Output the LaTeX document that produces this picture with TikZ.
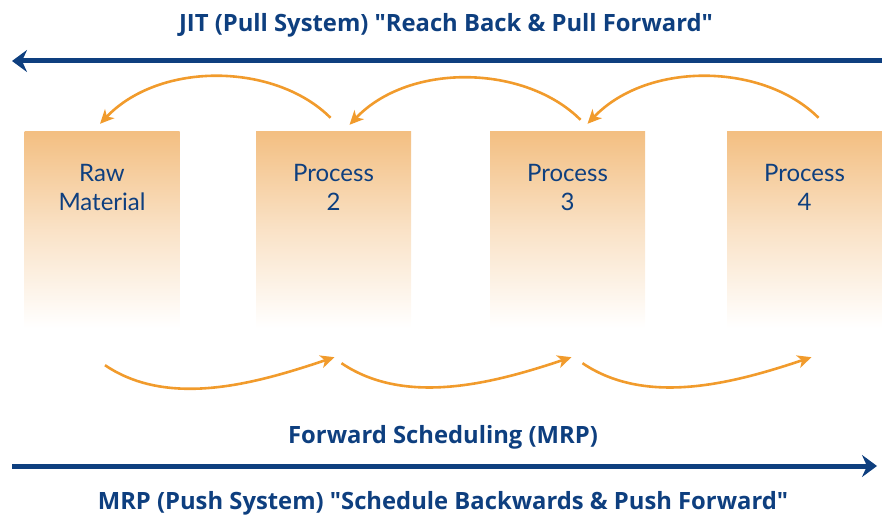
\documentclass[tikz,border=0pt]{standalone}
\usepackage{fontspec}
\setmainfont{Lato}
\newfontfamily\headfont{Open Sans}
\usetikzlibrary{arrows.meta,calc}
\definecolor{navy}{HTML}{0E3F7F}
\definecolor{flow}{HTML}{F19B2C}
\definecolor{boxtop}{HTML}{F3BF82}
\newcommand{\dq}{\symbol{34}}
\tikzset{
  stage/.style={rectangle, inner sep=0pt, minimum width=155pt, minimum height=196pt,
    top color=boxtop, bottom color=white, middle color=boxtop!45!white},
  stagetext/.style={text=navy, font=\fontsize{24}{29}\selectfont, align=center},
  headline/.style={text=navy, font=\headfont\bfseries\fontsize{23.8}{28}\selectfont},
  bigarrow/.style={draw=navy, line width=5pt, -{Stealth[length=15pt,width=22pt,inset=5pt]}},
  flowarrow/.style={draw=flow, line width=2.6pt, -{Stealth[length=14pt,width=13pt,inset=4pt]}}
}
\begin{document}
\begin{tikzpicture}[x=1pt,y=-1pt]
\useasboundingbox (0,0) rectangle (882,518);

% process stages
\node[stage] (raw) at (102,230) {};
\node[stage] (p2)  at (333.5,230) {};
\node[stage] (p3)  at (567.5,230) {};
\node[stage] (p4)  at (804.5,230) {};
\node[stagetext] (rawt) at ($(raw.north)+(0,56)$) {Raw\\Material};
\node[stagetext] (p2t)  at ($(p2.north)+(0,56)$) {Process\\2};
\node[stagetext] (p3t)  at ($(p3.north)+(0,56)$) {Process\\3};
\node[stagetext] (p4t)  at ($(p4.north)+(0,56)$) {Process\\4};

% headlines
\node[headline] (jit) at (446,25) {JIT (Pull System) \dq Reach Back \& Pull Forward\dq};
\node[headline] (fwd) at (443,437) {Forward Scheduling (MRP)};
\node[headline] (mrp) at (443,503) {MRP (Push System) \dq Schedule Backwards \& Push Forward\dq};

% end points of the long arrows
\coordinate (pullR) at (882,61);
\coordinate (pullL) at (12,61);
\coordinate (pushL) at (12,466);
\coordinate (pushR) at (877,466);
\draw[bigarrow] (pullR) -- (pullL);
\draw[bigarrow] (pushL) -- (pushR);

% pull arcs above the stages
\coordinate (u2) at ($(p2.north)+(-3,-14)$);
\coordinate (u3) at ($(p3.north)+(13,-12)$);
\coordinate (u4) at ($(p4.north)+(14,-14)$);
\coordinate (v1) at ($(raw.north)+(-2,-8)$);
\coordinate (v2) at ($(p2.north)+(16,-7)$);
\coordinate (v3) at ($(p3.north)+(20,-8)$);
\draw[flowarrow] (u2) .. controls ++(-55,-55) and ++(60,-63) .. (v1);
\draw[flowarrow] (u3) .. controls ++(-55,-55) and ++(60,-63) .. (v2);
\draw[flowarrow] (u4) .. controls ++(-55,-55) and ++(60,-63) .. (v3);

% push arcs below the stages
\coordinate (d1) at ($(raw.south)+(3,37)$);
\coordinate (d2) at ($(p2.south)+(8,35)$);
\coordinate (d3) at ($(p3.south)+(15,35)$);
\coordinate (e2) at ($(p2.south)+(1,29)$);
\coordinate (e3) at ($(p3.south)+(4,29)$);
\coordinate (e4) at ($(p4.south)+(7,29)$);
\draw[flowarrow] (d1) .. controls ++(65,44) and ++(-75,25) .. (e2);
\draw[flowarrow] (d2) .. controls ++(65,44) and ++(-75,25) .. (e3);
\draw[flowarrow] (d3) .. controls ++(65,44) and ++(-75,25) .. (e4);
\end{tikzpicture}
\end{document}
